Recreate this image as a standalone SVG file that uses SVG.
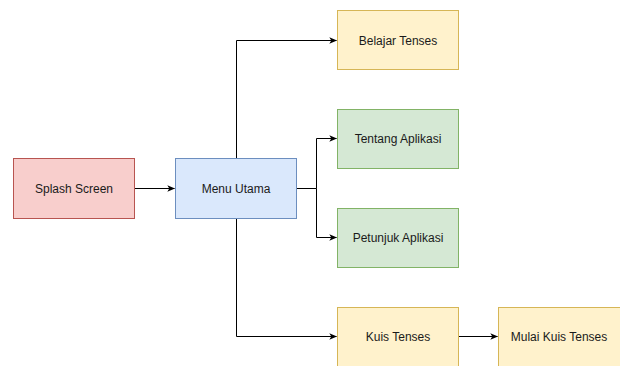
<svg xmlns="http://www.w3.org/2000/svg" width="620" height="366" viewBox="0 0 620 366">
<style>
.box{stroke-width:1}
.red{fill:#f8cecc;stroke:#b85450}
.blue{fill:#dae8fc;stroke:#6c8ebf}
.yellow{fill:#fff2cc;stroke:#d6b656}
.green{fill:#d5e8d4;stroke:#82b366}
text{font-family:"Liberation Sans",Arial,sans-serif;font-size:12px;fill:#1a1a1a;text-anchor:middle;dominant-baseline:central}
.edge{fill:none;stroke:#000;stroke-width:1}
</style>
<defs>
<marker id="arr" viewBox="0 0 10 10" refX="9" refY="5" markerWidth="8" markerHeight="8" markerUnits="userSpaceOnUse" orient="auto">
<path d="M0,1 L10,5 L0,9 L2.5,5 Z" fill="#000"/>
</marker>
</defs>
<rect width="620" height="366" fill="#fff"/>
<g id="connectors">
<path class="edge" d="M134.5,188.5 H174.5" marker-end="url(#arr)"/>
<path class="edge" d="M236.5,158.5 V40.5 H336.5" marker-end="url(#arr)"/>
<path class="edge" d="M296.5,188.5 H316.5 V138.5 H336.5" marker-end="url(#arr)"/>
<path class="edge" d="M316.5,188.5 V237.5 H336.5" marker-end="url(#arr)"/>
<path class="edge" d="M236.5,218.5 V336.5 H336.5" marker-end="url(#arr)"/>
<path class="edge" d="M458.5,336.5 H497.5" marker-end="url(#arr)"/>
</g>
<g id="splash"><rect class="box red" x="13.5" y="158.5" width="121" height="60"/><text x="74" y="188.5">Splash Screen</text></g>
<g id="menu"><rect class="box blue" x="175.5" y="158.5" width="121" height="60"/><text x="236" y="188.5">Menu Utama</text></g>
<g id="belajar"><rect class="box yellow" x="337.5" y="10.5" width="121" height="59"/><text x="398" y="40.5">Belajar Tenses</text></g>
<g id="tentang"><rect class="box green" x="337.5" y="109.5" width="121" height="59"/><text x="398" y="138.5">Tentang Aplikasi</text></g>
<g id="petunjuk"><rect class="box green" x="337.5" y="208.5" width="121" height="59"/><text x="398" y="237.5">Petunjuk Aplikasi</text></g>
<g id="kuis"><rect class="box yellow" x="337.5" y="307.5" width="121" height="60"/><text x="398" y="336.5">Kuis Tenses</text></g>
<g id="mulai"><rect class="box yellow" x="498.5" y="307.5" width="122" height="60"/><text x="559" y="336.5">Mulai Kuis Tenses</text></g>
</svg>
